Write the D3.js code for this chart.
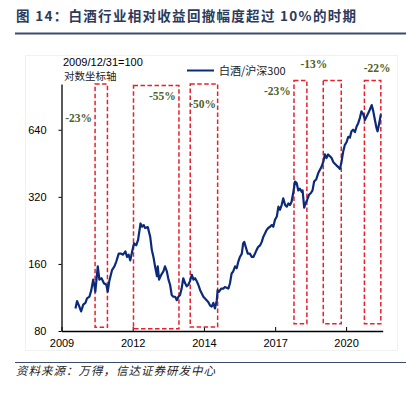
<!DOCTYPE html>
<html>
<head>
<meta charset="utf-8">
<script src="https://cdn.jsdelivr.net/npm/d3@7"></script>
<style>
    body { margin: 0; background: #fff; }
    svg { display: block; }
    .cjk { font-family: "Noto Sans CJK SC", sans-serif; }
</style>
</head>
<body>
<div id="chart"></div>
<script>

// 白酒/沪深300, 2009/12/31=100 (dates as decimal years)
let years = [
    2010.00, 2010.06, 2010.13, 2010.21, 2010.29, 2010.37, 2010.43, 2010.52, 2010.59, 2010.66,
    2010.71, 2010.74, 2010.83, 2010.89, 2010.97, 2011.06, 2011.15, 2011.20, 2011.26, 2011.36,
    2011.45, 2011.52, 2011.61, 2011.70, 2011.77, 2011.86, 2011.92, 2011.98, 2012.04, 2012.11,
    2012.18, 2012.26, 2012.33, 2012.42, 2012.48, 2012.54, 2012.59, 2012.69, 2012.78, 2012.84,
    2012.90, 2012.96, 2013.03, 2013.06, 2013.11, 2013.19, 2013.27, 2013.33, 2013.40, 2013.46,
    2013.52, 2013.58, 2013.64, 2013.71, 2013.77, 2013.83, 2013.89, 2013.95, 2014.01, 2014.08,
    2014.14, 2014.20, 2014.26, 2014.33, 2014.39, 2014.45, 2014.51, 2014.57, 2014.64, 2014.70,
    2014.76, 2014.82, 2014.88, 2014.94, 2015.01, 2015.07, 2015.13, 2015.19, 2015.26, 2015.29,
    2015.34, 2015.42, 2015.50, 2015.56, 2015.69, 2015.75, 2015.81, 2015.87, 2015.94, 2016.00,
    2016.06, 2016.12, 2016.19, 2016.24, 2016.28, 2016.35, 2016.41, 2016.49, 2016.56, 2016.62,
    2016.68, 2016.74, 2016.80, 2016.87, 2016.93, 2016.99, 2017.05, 2017.11, 2017.17, 2017.24,
    2017.30, 2017.36, 2017.42, 2017.49, 2017.55, 2017.61, 2017.67, 2017.73, 2017.80, 2017.86,
    2017.92, 2017.98, 2018.04, 2018.10, 2018.17, 2018.23, 2018.29, 2018.35, 2018.42, 2018.45,
    2018.51, 2018.56, 2018.62, 2018.69, 2018.76, 2018.82, 2018.88, 2018.96, 2019.03, 2019.09,
    2019.15, 2019.22, 2019.28, 2019.34, 2019.40, 2019.47, 2019.53, 2019.59, 2019.65, 2019.71,
    2019.78, 2019.84, 2019.90, 2019.96, 2020.02, 2020.09, 2020.15, 2020.21, 2020.27, 2020.33,
    2020.40, 2020.46, 2020.52, 2020.58, 2020.64, 2020.71, 2020.77, 2020.83, 2020.89, 2020.95,
    2021.02, 2021.08, 2021.14, 2021.20, 2021.24, 2021.30, 2021.36
];
let ratio = [
    101, 109, 104, 98, 105, 107, 112, 114, 122, 136,
    127, 120, 156, 136, 138, 131, 129, 120, 134, 150,
    156, 164, 178, 178, 176, 182, 172, 176, 166, 182,
    198, 194, 205, 243, 235, 239, 232, 234, 212, 185,
    172, 156, 141, 156, 136, 143, 148, 156, 148, 136,
    129, 116, 114, 114, 110, 114, 116, 124, 138, 131,
    127, 129, 134, 143, 136, 138, 134, 129, 122, 118,
    114, 112, 110, 108, 104, 103, 107, 101, 110, 122,
    120, 124, 124, 126, 124, 131, 145, 148, 156, 153,
    164, 172, 178, 198, 201, 188, 178, 178, 172, 172,
    178, 185, 191, 194, 201, 212, 219, 227, 232, 235,
    239, 235, 252, 261, 289, 280, 294, 315, 294, 289,
    299, 294, 304, 333, 375, 369, 342, 348, 337, 342,
    286, 299, 310, 327, 333, 342, 375, 384, 408, 422,
    435, 459, 496, 478, 496, 487, 478, 459, 451, 443,
    435, 427, 459, 510, 546, 564, 595, 590, 630, 640,
    625, 662, 685, 722, 774, 750, 708, 733, 759, 787,
    826, 774, 708, 651, 630, 685, 750
];

// drawdown periods (>10%)
let ddStart = [2010.73, 2012.16, 2014.27, 2018.13, 2019.22, 2020.75];
let ddEnd   = [2011.19, 2013.85, 2015.29, 2018.61, 2019.89, 2021.36];
let ddHigh  = [1027, 1010, 1027, 1066, 1066, 1066];
let ddLow   = [83.1, 81.9, 83.3, 86.2, 86.2, 86.2];
let ddLabel = ["-23%", "-55%", "-50%", "-23%", "-13%", "-22%"];
// where each label sits (right end of text)
let ddLabelYear  = [2010.62, 2013.73, 2015.23, 2018.01, 2019.37, 2021.72];
let ddLabelValue = [725, 903, 838, 958, 1267, 1215];

let yTicks = [80, 160, 320, 640];
let xTickYears  = [2009.48, 2012.13, 2014.78, 2017.43, 2020.07];
let xTickLabels = ["2009", "2012", "2014", "2017", "2020"];

function toDate(y) {
    let yr = Math.floor(y);
    let a = new Date(yr, 0, 1), b = new Date(yr + 1, 0, 1);
    return new Date(+a + (y - yr) * (b - a));
}

var width = 406, height = 397;

var svg = d3.select("#chart").append("svg")
    .attr("width", width)
    .attr("height", height);

// title + rules
svg.append("text")
    .attr("class", "cjk")
    .attr("x", 16).attr("y", 21)
    .attr("font-size", 13.5)
    .attr("font-weight", "bold")
    .attr("letter-spacing", 1.3)
    .attr("fill", "#2b3a5c")
    .text("图 14：白酒行业相对收益回撤幅度超过 10%的时期");

svg.append("line")
    .attr("x1", 15).attr("x2", 406)
    .attr("y1", 33.5).attr("y2", 33.5)
    .attr("stroke", "#3b4a6e").attr("stroke-width", 2.2);

// faint chart frame
svg.append("rect")
    .attr("x", 25.5).attr("y", 55.5)
    .attr("width", 372).attr("height", 295)
    .attr("fill", "none")
    .attr("stroke", "#f1f1f1");

svg.append("line")
    .attr("x1", 15).attr("x2", 406)
    .attr("y1", 362.5).attr("y2", 362.5)
    .attr("stroke", "#3b4a6e").attr("stroke-width", 1.2);

svg.append("text")
    .attr("class", "cjk")
    .attr("x", 16).attr("y", 375)
    .attr("font-size", 11.5)
    .attr("font-style", "italic")
    .attr("letter-spacing", 1)
    .attr("fill", "#222")
    .text("资料来源：万得，信达证券研发中心");

// scales
var x = d3.scaleTime()
    .domain([toDate(2009.48), toDate(2021.43)])
    .range([61.5, 382.7]);

var y = d3.scaleLog().base(2)
    .domain([80, 1027])
    .range([331, 84]);

// axes
var xAxis = d3.axisBottom(x)
    .tickValues(xTickYears.map(toDate))
    .tickFormat(function(d, i) { return xTickLabels[i]; })
    .tickSizeInner(-4)
    .tickSizeOuter(0)
    .tickPadding(8);

var gx = svg.append("g")
    .attr("transform", "translate(0,331)")
    .call(xAxis);

var yAxis = d3.axisLeft(y)
    .tickValues(yTicks)
    .tickFormat(d3.format("d"))
    .tickSizeInner(3)
    .tickSizeOuter(0)
    .tickPadding(12);

var gy = svg.append("g")
    .attr("transform", "translate(61.5,0)")
    .call(yAxis);

[gx, gy].forEach(function(g) {
    g.selectAll("path.domain").attr("stroke", "#000").attr("stroke-width", 1.3);
    g.selectAll(".tick line").attr("stroke", "#000");
    g.selectAll("text")
        .attr("font-family", "'Liberation Sans', Arial, sans-serif")
        .attr("font-size", 11)
        .attr("fill", "#000");
});

// unit notes
svg.append("text")
    .attr("x", 63).attr("y", 66)
    .attr("font-family", "'Liberation Sans', Arial, sans-serif")
    .attr("font-size", 11)
    .text("2009/12/31=100");

svg.append("text")
    .attr("class", "cjk")
    .attr("x", 64).attr("y", 79.5)
    .attr("font-size", 10.5)
    .attr("fill", "#222")
    .text("对数坐标轴");

// drawdown boxes
let boxes = ddStart.map(function(s, i) {
    return { s: s, e: ddEnd[i], hi: ddHigh[i], lo: ddLow[i],
             label: ddLabel[i], ly: ddLabelYear[i], lv: ddLabelValue[i] };
});

svg.selectAll("rect.dd")
    .data(boxes)
    .enter()
    .append("rect")
    .attr("class", "dd")
    .attr("x", function(d) { return x(toDate(d.s)); })
    .attr("y", function(d) { return y(d.hi); })
    .attr("width", function(d) { return x(toDate(d.e)) - x(toDate(d.s)); })
    .attr("height", function(d) { return y(d.lo) - y(d.hi); })
    .attr("fill", "none")
    .attr("stroke", "#e8202c")
    .attr("stroke-width", 1.5)
    .attr("stroke-dasharray", "4.5,2.5");

// ratio line
var line = d3.line()
    .x(function(d, i) { return x(toDate(years[i])); })
    .y(function(d) { return y(d); });

svg.append("path")
    .datum(ratio)
    .attr("d", line)
    .attr("fill", "none")
    .attr("stroke", "#0c2a7a")
    .attr("stroke-width", 2.2)
    .attr("stroke-linejoin", "round");

svg.selectAll("text.dd")
    .data(boxes)
    .enter()
    .append("text")
    .attr("class", "dd")
    .attr("x", function(d) { return x(toDate(d.ly)); })
    .attr("y", function(d) { return y(d.lv); })
    .attr("dy", "0.35em")
    .attr("text-anchor", "end")
    .attr("font-family", "'Liberation Serif', 'Times New Roman', serif")
    .attr("font-weight", "bold")
    .attr("font-size", 11.5)
    .attr("fill", "#4f6228")
    .text(function(d) { return d.label; });

// legend
svg.append("line")
    .attr("x1", 187).attr("x2", 214)
    .attr("y1", 70.5).attr("y2", 70.5)
    .attr("stroke", "#0c2a7a").attr("stroke-width", 2);

svg.append("text")
    .attr("class", "cjk")
    .attr("x", 219).attr("y", 74.5)
    .attr("font-size", 11)
    .attr("fill", "#222")
    .text("白酒/沪深300");

</script>
</body>
</html>
